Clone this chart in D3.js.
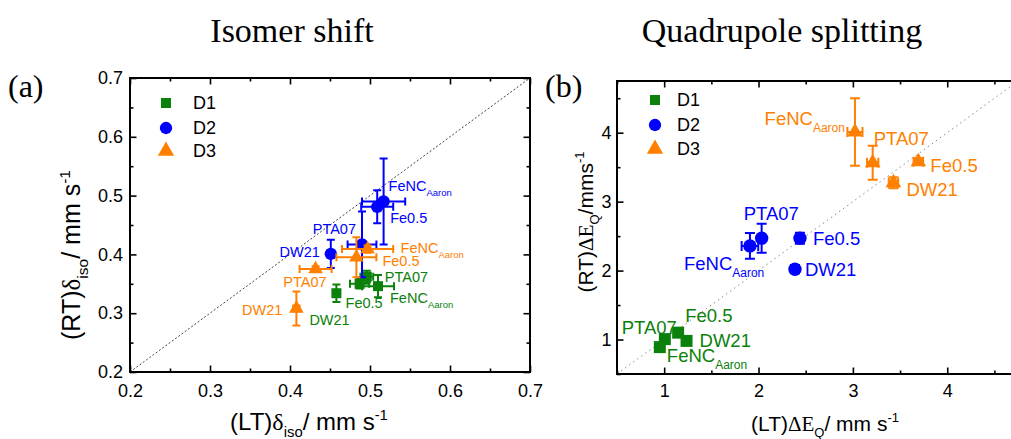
<!DOCTYPE html>
<html>
<head>
<meta charset="utf-8">
<script src="https://cdn.jsdelivr.net/npm/d3@7/dist/d3.min.js"></script>
<style>
  body { margin: 0; background: #fff; }
  svg { display: block; }
</style>
</head>
<body>
<svg id="fig" width="1011" height="439"></svg>
<script>
/* --- Data --- */

// Isomer shift, mm/s : LT value vs RT value
const isoD1 = [
  { sample: "DW21",       lt: 0.458, ltErr: 0.004, rt: 0.334, rtErr: 0.015 },
  { sample: "Fe0.5",      lt: 0.487, ltErr: 0.012, rt: 0.350, rtErr: 0.008 },
  { sample: "PTA07",      lt: 0.496, ltErr: 0.008, rt: 0.362, rtErr: 0.010 },
  { sample: "FeNC_Aaron", lt: 0.510, ltErr: 0.020, rt: 0.346, rtErr: 0.019 }
];
const isoD2 = [
  { sample: "FeNC_Aaron", lt: 0.517, ltErr: 0.027, rt: 0.490, rtErr: 0.073 },
  { sample: "Fe0.5",      lt: 0.509, ltErr: 0.020, rt: 0.481, rtErr: 0.028 },
  { sample: "PTA07",      lt: 0.490, ltErr: 0.018, rt: 0.417, rtErr: 0.056 },
  { sample: "DW21",       lt: 0.451, ltErr: 0.004, rt: 0.401, rtErr: 0.024 }
];
const isoD3 = [
  { sample: "FeNC_Aaron", lt: 0.497, ltErr: 0.032, rt: 0.409, rtErr: 0.006 },
  { sample: "Fe0.5",      lt: 0.483, ltErr: 0.025, rt: 0.395, rtErr: 0.034 },
  { sample: "PTA07",      lt: 0.432, ltErr: 0.020, rt: 0.375, rtErr: 0.005 },
  { sample: "DW21",       lt: 0.408, ltErr: 0.004, rt: 0.308, rtErr: 0.029 }
];

// Quadrupole splitting, mm/s
const quadD1 = [
  { sample: "PTA07",      lt: 1.007, ltErr: 0.02, rt: 1.006, rtErr: 0.02 },
  { sample: "FeNC_Aaron", lt: 0.954, ltErr: 0.02, rt: 0.890, rtErr: 0.02 },
  { sample: "Fe0.5",      lt: 1.148, ltErr: 0.02, rt: 1.100, rtErr: 0.02 },
  { sample: "DW21",       lt: 1.237, ltErr: 0.02, rt: 0.980, rtErr: 0.02 }
];
const quadD2 = [
  { sample: "FeNC_Aaron", lt: 1.909, ltErr: 0.088, rt: 2.358, rtErr: 0.186 },
  { sample: "PTA07",      lt: 2.033, ltErr: 0.030, rt: 2.470, rtErr: 0.210 },
  { sample: "Fe0.5",      lt: 2.439, ltErr: 0.030, rt: 2.470, rtErr: 0.080 },
  { sample: "DW21",       lt: 2.386, ltErr: 0.030, rt: 2.020, rtErr: 0.060 }
];
const quadD3 = [
  { sample: "FeNC_Aaron", lt: 3.022, ltErr: 0.080, rt: 4.010, rtErr: 0.488 },
  { sample: "PTA07",      lt: 3.210, ltErr: 0.060, rt: 3.565, rtErr: 0.246 },
  { sample: "Fe0.5",      lt: 3.694, ltErr: 0.050, rt: 3.580, rtErr: 0.050 },
  { sample: "DW21",       lt: 3.430, ltErr: 0.050, rt: 3.275, rtErr: 0.080 }
];

const SERIES = ["D1", "D2", "D3"];
const ISO_TICKS = [0.2, 0.3, 0.4, 0.5, 0.6, 0.7];
const ISO_MINOR = [0.25, 0.35, 0.45, 0.55, 0.65];
const QUAD_TICKS = [1, 2, 3, 4];
const QUAD_MINOR = [0.5, 1.5, 2.5, 3.5, 4.5];

// --- label placement (px offset from marker, anchor) ---
const isoLabelPos = {
  D1: { "DW21": [-27, 32, "start"], "Fe0.5": [-14, 24, "start"], "PTA07": [18, 5, "start"], "FeNC_Aaron": [12, 17, "start"] },
  D2: { "FeNC_Aaron": [5, -10, "start"], "Fe0.5": [13, 16, "start"], "PTA07": [-6, -10, "end"], "DW21": [-11, 3, "end"] },
  D3: { "FeNC_Aaron": [33, 4, "start"], "Fe0.5": [26, 9, "start"], "PTA07": [11, 18, "end"], "DW21": [-14, 7, "end"] }
};
const quadLabelPos = {
  D1: { "PTA07": [12, -5, "end"], "FeNC_Aaron": [7, 15, "start"], "Fe0.5": [7, -11, "start"], "DW21": [13, 6, "start"] },
  D2: { "FeNC_Aaron": [-66, 24, "start"], "PTA07": [-18, -18, "start"], "Fe0.5": [13, 7, "start"], "DW21": [10, 7, "start"] },
  D3: { "FeNC_Aaron": [-10, -7, "end"], "PTA07": [1, -18, "start"], "Fe0.5": [12, 10, "start"], "DW21": [13, 13, "start"] }
};

// --- style ---
const SANS = "'Liberation Sans', Arial, sans-serif";
const SERIF = "'Liberation Serif', 'Times New Roman', serif";
const COLORS = { D1: "#0b800b", D2: "#0000ff", D3: "#ff8000" };
const SYMBOLS = { D1: d3.symbolSquare, D2: d3.symbolCircle, D3: d3.symbolTriangle };

const svg = d3.select("#fig");

// --- helpers ---
function addLabel(g, name, x, y, anchor, fs, subFs, subDy, color) {
  const parts = name.split("_");
  const t = g.append("text")
    .attr("x", x).attr("y", y)
    .attr("text-anchor", anchor)
    .attr("font-family", SANS).attr("font-size", fs).attr("fill", color);
  t.append("tspan").text(parts[0]);
  if (parts[1]) t.append("tspan").attr("font-size", subFs).attr("dy", subDy).text(parts[1]);
}

// text with sub/superscripts and mixed fonts
function richText(g, x, y, fs, segs, rotate) {
  const t = g.append("text")
    .attr("text-anchor", "middle")
    .attr("font-family", SANS).attr("font-size", fs).attr("fill", "#000")
    .attr("transform", `translate(${x},${y})` + (rotate ? " rotate(-90)" : ""));
  let shift = 0;
  segs.forEach(s => {
    const target = s.sub ? 0.3 * fs : s.sup ? -0.42 * fs : 0;
    const sp = t.append("tspan").attr("dy", target - shift).text(s.t);
    if (s.sub || s.sup) sp.attr("font-size", fs * 0.62);
    if (s.serif) sp.attr("font-family", SERIF);
    shift = target;
  });
}

function drawPanel(cfg) {
  const x = d3.scaleLinear().domain(cfg.xDomain).range(cfg.xRange);
  const y = d3.scaleLinear().domain(cfg.yDomain).range(cfg.yRange);
  const [x0, x1] = cfg.xRange;
  const [y0, y1] = cfg.yRange;
  const g = svg.append("g");

  const clipId = "clip-" + cfg.id;
  svg.append("defs").append("clipPath").attr("id", clipId)
    .append("rect").attr("x", x0).attr("y", y1).attr("width", x1 - x0).attr("height", y0 - y1);

  // y = x guide
  const lo = Math.max(cfg.xDomain[0], cfg.yDomain[0]);
  const hi = Math.min(cfg.xDomain[1], cfg.yDomain[1]);
  g.append("line")
    .attr("x1", x(lo)).attr("y1", y(lo)).attr("x2", x(hi)).attr("y2", y(hi))
    .attr("stroke", cfg.diagColor).attr("stroke-width", 1)
    .attr("stroke-dasharray", cfg.diagDash);

  // axes: ticks inward on all four sides
  const addAxis = (axis, tr, ticks, size, withLabels, pad) => {
    const a = g.append("g").attr("transform", tr)
      .call(axis.tickValues(ticks).tickSize(-size).tickSizeOuter(0).tickPadding(pad || 3)
        .tickFormat(withLabels ? cfg.fmt : ""));
    a.select(".domain").remove();
    a.attr("font-size", 18).attr("font-family", SANS);
    a.selectAll("line").attr("stroke", "#000").attr("stroke-width", 1.6);
    a.selectAll("text").attr("fill", "#000");
    return a;
  };
  addAxis(d3.axisBottom(x), `translate(0,${y0})`, cfg.xTicks, 6.5, true, cfg.xPad);
  addAxis(d3.axisBottom(x), `translate(0,${y0})`, cfg.xMinor, 3.5, false);
  addAxis(d3.axisTop(x), `translate(0,${y1})`, cfg.xTicks, 6.5, false);
  addAxis(d3.axisTop(x), `translate(0,${y1})`, cfg.xMinor, 3.5, false);
  addAxis(d3.axisLeft(y), `translate(${x0},0)`, cfg.yTicks, 6.5, true, cfg.yPad);
  addAxis(d3.axisLeft(y), `translate(${x0},0)`, cfg.yMinor, 3.5, false);
  addAxis(d3.axisRight(y), `translate(${x1},0)`, cfg.yTicks, 6.5, false);
  addAxis(d3.axisRight(y), `translate(${x1},0)`, cfg.yMinor, 3.5, false);

  g.append("rect")
    .attr("x", x0).attr("y", y1).attr("width", x1 - x0).attr("height", y0 - y1)
    .attr("fill", "none").attr("stroke", "#000").attr("stroke-width", 2);

  // series
  cfg.series.forEach((data, i) => {
    const key = SERIES[i];
    const col = COLORS[key];
    const sg = g.append("g").attr("clip-path", `url(#${clipId})`);
    const c = cfg.cap;

    sg.selectAll("path.eb").data(data).join("path")
      .attr("class", "eb")
      .attr("fill", "none").attr("stroke", col).attr("stroke-width", cfg.ebWidth)
      .attr("d", d => {
        const xa = x(d.lt - d.ltErr), xb = x(d.lt + d.ltErr), yy = y(d.rt);
        const ya = y(d.rt - d.rtErr), yb = y(d.rt + d.rtErr), xx = x(d.lt);
        return `M${xa},${yy}H${xb}M${xa},${yy - c}V${yy + c}M${xb},${yy - c}V${yy + c}` +
               `M${xx},${ya}V${yb}M${xx - c},${ya}H${xx + c}M${xx - c},${yb}H${xx + c}`;
      });

    sg.selectAll("path.mk").data(data).join("path")
      .attr("class", "mk")
      .attr("transform", d => `translate(${x(d.lt)},${y(d.rt)})`)
      .attr("d", d3.symbol(SYMBOLS[key], cfg.symSize[key]))
      .attr("fill", col);

    data.forEach(d => {
      const [dx, dy, anchor] = cfg.labelPos[key][d.sample];
      addLabel(g, d.sample, x(d.lt) + dx, y(d.rt) + dy, anchor,
        cfg.labelFs, cfg.subFs, cfg.subDy, col);
    });
  });

  // legend
  SERIES.forEach((key, i) => {
    const ly = y1 + cfg.legend.y0 + i * cfg.legend.step[i];
    g.append("path")
      .attr("transform", `translate(${x0 + cfg.legend.x},${ly})`)
      .attr("d", d3.symbol(SYMBOLS[key], cfg.legend.size[key]))
      .attr("fill", COLORS[key]);
    g.append("text")
      .attr("x", x0 + cfg.legend.x + cfg.legend.gap).attr("y", ly)
      .attr("dy", "0.36em")
      .attr("font-family", SANS).attr("font-size", 18).attr("fill", "#000")
      .text(key);
  });
}

// --- panel (a): isomer shift ---
drawPanel({
  id: "a",
  series: [isoD1, isoD2, isoD3],
  labelPos: isoLabelPos,
  xDomain: [0.2, 0.7], yDomain: [0.2, 0.7],
  xRange: [130, 530], yRange: [372, 78],
  xTicks: ISO_TICKS, xMinor: ISO_MINOR, yTicks: ISO_TICKS, yMinor: ISO_MINOR,
  fmt: d3.format(".1f"), xPad: 12, yPad: 7,
  diagColor: "#444", diagDash: "2,2",
  cap: 4, ebWidth: 2,
  symSize: { D1: 100, D2: 120, D3: 92 },
  labelFs: 14.5, subFs: 9.5, subDy: 5,
  legend: { x: 36, y0: 25, step: [25, 25, 24], gap: 27, size: { D1: 100, D2: 120, D3: 115 } }
});

// --- panel (b): quadrupole splitting ---
drawPanel({
  id: "b",
  series: [quadD1, quadD2, quadD3],
  labelPos: quadLabelPos,
  xDomain: [0.5, 4.75], yDomain: [0.5, 4.75],
  xRange: [617, 1018], yRange: [374, 81],
  xTicks: QUAD_TICKS, xMinor: QUAD_MINOR, yTicks: QUAD_TICKS, yMinor: QUAD_MINOR,
  fmt: d3.format("d"), xPad: 10, yPad: 5.5,
  diagColor: "#888", diagDash: "1.5,3.5",
  cap: 5, ebWidth: 2,
  symSize: { D1: 144, D2: 140, D3: 105 },
  labelFs: 18.5, subFs: 12, subDy: 7,
  legend: { x: 38, y0: 19, step: [25, 25, 24.5], gap: 22, size: { D1: 100, D2: 120, D3: 115 } }
});

// --- titles and axis titles ---
svg.append("text").attr("x", 292).attr("y", 42).attr("text-anchor", "middle")
  .attr("font-family", SERIF).attr("font-size", 34).text("Isomer shift");
svg.append("text").attr("x", 782).attr("y", 42).attr("text-anchor", "middle")
  .attr("font-family", SERIF).attr("font-size", 34).text("Quadrupole splitting");
svg.append("text").attr("x", 8).attr("y", 97)
  .attr("font-family", SERIF).attr("font-size", 32).text("(a)");
svg.append("text").attr("x", 545).attr("y", 97)
  .attr("font-family", SERIF).attr("font-size", 32).text("(b)");

richText(svg, 309, 430, 24, [
  { t: "(LT)" }, { t: "δ", serif: true }, { t: "iso", sub: true }, { t: "/ mm s" }, { t: "-1", sup: true }
]);
richText(svg, 80, 255, 25, [
  { t: "(RT)" }, { t: "δ", serif: true }, { t: "iso", sub: true }, { t: "/ mm s" }, { t: "-1", sup: true }
], true);
richText(svg, 825, 431, 21, [
  { t: "(LT)" }, { t: "ΔE", serif: true }, { t: "Q", sub: true }, { t: "/ mm s" }, { t: "-1", sup: true }
]);
richText(svg, 593, 222, 21, [
  { t: "(RT)" }, { t: "ΔE", serif: true }, { t: "Q", sub: true }, { t: "/mms" }, { t: "-1", sup: true }
], true);
</script>
</body>
</html>
